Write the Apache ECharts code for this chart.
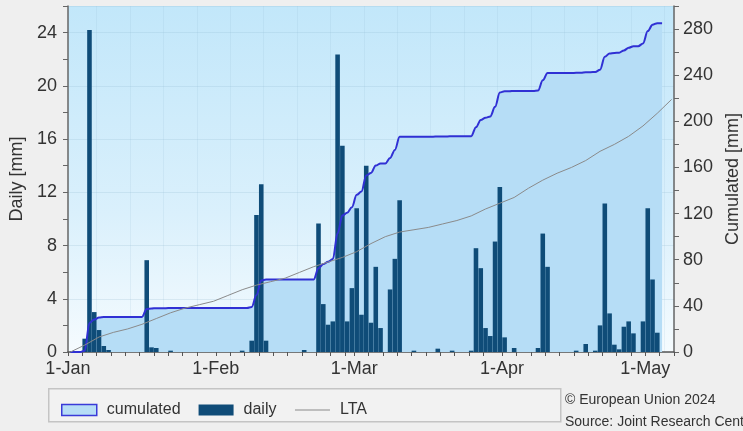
<!DOCTYPE html>
<html><head><meta charset="utf-8">
<script src="https://cdn.jsdelivr.net/npm/echarts@6/dist/echarts.min.js"></script>
<style>html,body{margin:0;padding:0;background:#efefef}#c{width:743px;height:431px}</style>
</head><body><div id="c"></div>
<script>
// ---- data ----
const monthNames = ['Jan', 'Feb', 'Mar', 'Apr', 'May'];
const monthDays = [31, 29, 31, 30, 6];           // 2024 axis: 1 Jan .. 6 May
const tickDaysOfMonth = [1, 4, 7, 10, 13, 16, 19, 22, 25, 28];
const leftTickLabels = [0, 4, 8, 12, 16, 20, 24];
const rightTickLabels = [0, 40, 80, 120, 160, 200, 240, 280];

// daily precipitation [mm], 1 Jan .. 4 May
const daily = [
  0, 0, 0, 1.0, 24.2, 3.0, 1.65, 0.45, 0.15, 0,
  0, 0, 0, 0, 0, 0, 6.9, 0.35, 0.3, 0,
  0, 0.1, 0, 0, 0, 0, 0, 0, 0, 0,
  0, 0, 0, 0, 0, 0, 0.1, 0, 0.85, 10.3,
  12.6, 0.85, 0, 0, 0, 0, 0, 0, 0, 0.15,
  0, 0, 9.65, 3.6, 2.05, 2.3, 22.35, 15.5, 2.3, 4.8,
  10.8, 2.8, 14.0, 2.2, 6.4, 1.8, 0, 4.7, 7.0, 11.4,
  0, 0, 0.1, 0, 0, 0, 0, 0.25, 0, 0,
  0.1, 0, 0, 0, 0.1, 7.8, 6.3, 1.8, 1.2, 8.3,
  12.4, 1.1, 0, 0.3, 0, 0, 0, 0, 0.3, 8.9,
  6.4, 0, 0, 0, 0, 0, 0.1, 0, 0.6, 0,
  0.1, 2.0, 11.15, 2.9, 0.55, 0.2, 1.9, 2.3, 1.4, 0,
  2.3, 10.8, 5.45, 1.45, 0
];

// long term average cumulated [mm] (day index, value)
const ltaDayIndex = [0, 3, 6, 9, 12, 15, 18, 21, 24, 27, 30, 33, 36, 39, 42, 45, 48, 51, 54, 57, 60, 63, 66, 69, 72, 75, 78, 81, 84, 87, 90, 93, 96, 99, 102, 105, 108, 111, 114, 117, 120, 123, 126];
const ltaValues   = [0, 6, 13, 17, 20, 24, 29, 34, 38, 41, 44, 49, 54, 58, 61, 64, 69, 74, 78, 82, 87, 94, 100, 104, 106, 108, 111, 114, 118, 124, 129, 134, 142, 149, 155, 160, 166, 174, 180, 187, 196, 207, 219];

// ---- build ----
const categories = [];
const dayOfMonth = [];
monthNames.forEach((m, mi) => {
  for (let d = 1; d <= monthDays[mi]; d++) { categories.push(d + '-' + m); dayOfMonth.push(d); }
});
const cumulated = [];
let run = 0;
daily.forEach(v => { run += v; cumulated.push(+run.toFixed(2)); });
const lta = ltaDayIndex.map((d, i) => [d, ltaValues[i]]);

const FONT = 'Liberation Sans, Arial, sans-serif';
const TXT = '#333';

const chart = echarts.init(document.getElementById('c'), null, {renderer: 'canvas'});
chart.setOption({
  animation: false,
  backgroundColor: '#efefef',
  textStyle: {fontFamily: FONT},
  grid: {
    left: 68, right: 69, top: 6, bottom: 79, show: true, borderWidth: 0,
    containLabel: false, outerBoundsMode: 'none',
    backgroundColor: {type: 'linear', x: 0, y: 0, x2: 0, y2: 1,
      colorStops: [{offset: 0, color: '#c2e7fa'}, {offset: 0.6, color: '#daf0fc'}, {offset: 1, color: '#f5fbfe'}]}
  },
  legend: {
    left: 56, top: 397, itemWidth: 35, itemHeight: 11, itemGap: 18,
    textStyle: {fontSize: 16, color: TXT, fontFamily: FONT, padding: [0, 0, 0, 5]},
    data: [
      {name: 'cumulated', icon: 'rect', itemStyle: {color: '#b6ddf6', borderColor: '#3a3ad8', borderWidth: 1.5}},
      {name: 'daily', icon: 'rect', itemStyle: {color: '#0f4c78'}},
      {name: 'LTA', itemStyle: {opacity: 0}, lineStyle: {color: '#8a8a8a', width: 1}}
    ]
  },
  graphic: [
    {type: 'rect', left: 48, top: 388, z: -1, shape: {width: 512, height: 33},
      style: {fill: '#f2f2f2', stroke: '#c4c4c4', lineWidth: 1.5}},
    {type: 'text', left: 565, top: 393, style: {text: '© European Union 2024', fontSize: 14, fill: TXT, fontFamily: FONT}},
    {type: 'text', left: 565, top: 415, style: {text: 'Source: Joint Research Centre', fontSize: 14, fill: TXT, fontFamily: FONT}}
  ],
  xAxis: {
    type: 'category', data: categories, boundaryGap: true,
    axisLine: {lineStyle: {color: '#555', width: 1.5}},
    axisTick: {show: true, length: 4, lineStyle: {color: '#555'},
      interval: (i) => tickDaysOfMonth.indexOf(dayOfMonth[i]) >= 0},
    axisLabel: {fontSize: 18, color: TXT, margin: 8, fontFamily: FONT, padding: [0, 5, 0, 0],
      interval: (i) => dayOfMonth[i] === 1},
    splitLine: {show: true, interval: (i) => i % 7 === 6, lineStyle: {color: 'rgba(140,180,205,0.15)', width: 1}}
  },
  yAxis: [
    {
      type: 'value', position: 'left', min: 0, max: 26, interval: 2,
      name: 'Daily [mm]', nameLocation: 'middle', nameRotate: 90, nameGap: 37,
      nameTextStyle: {fontSize: 18, color: TXT, fontFamily: FONT},
      axisLine: {show: true, lineStyle: {color: '#666', width: 1.5}},
      axisTick: {show: true, length: 5, lineStyle: {color: '#666'}},
      axisLabel: {fontSize: 18, color: TXT, margin: 11, fontFamily: FONT,
        formatter: v => leftTickLabels.indexOf(v) >= 0 ? String(v) : ''},
      splitLine: {show: false}
    },
    {
      type: 'value', position: 'right', min: 0, max: 300, interval: 20,
      name: 'Cumulated [mm]', nameLocation: 'middle', nameRotate: 90, nameGap: 50,
      nameTextStyle: {fontSize: 18, color: TXT, fontFamily: FONT},
      axisLine: {show: true, lineStyle: {color: '#666', width: 1.5}},
      axisTick: {show: true, length: 5, lineStyle: {color: '#666'}},
      axisLabel: {fontSize: 18, color: TXT, margin: 9, fontFamily: FONT,
        formatter: v => rightTickLabels.indexOf(v) >= 0 ? String(v) : ''},
      splitLine: {show: false}
    },
    {
      type: 'value', position: 'left', min: 0, max: 26, interval: 4,
      axisLine: {show: false}, axisTick: {show: false}, axisLabel: {show: false},
      splitLine: {show: true, lineStyle: {color: 'rgba(140,180,205,0.22)', width: 1}}
    }
  ],
  series: [
    {
      name: 'cumulated', type: 'line', yAxisIndex: 1, data: cumulated, z: 1,
      symbol: 'none', smooth: 0.35, smoothMonotone: 'x',
      lineStyle: {width: 0}, areaStyle: {color: '#b6ddf6', opacity: 1}, silent: true
    },
    {
      name: 'daily', type: 'bar', yAxisIndex: 0, data: daily, z: 2,
      barCategoryGap: '4%', itemStyle: {color: '#0f4c78'}
    },
    {
      name: 'cumulated', type: 'line', yAxisIndex: 1, data: cumulated, z: 3,
      symbol: 'none', smooth: 0.35, smoothMonotone: 'x',
      lineStyle: {color: '#3030d4', width: 2}, itemStyle: {color: '#3030d4'}
    },
    {
      name: 'LTA', type: 'line', yAxisIndex: 1, data: lta, z: 4,
      symbol: 'none', lineStyle: {color: '#8a8a8a', width: 1}, itemStyle: {color: '#8a8a8a'}
    }
  ]
});
</script></body></html>
